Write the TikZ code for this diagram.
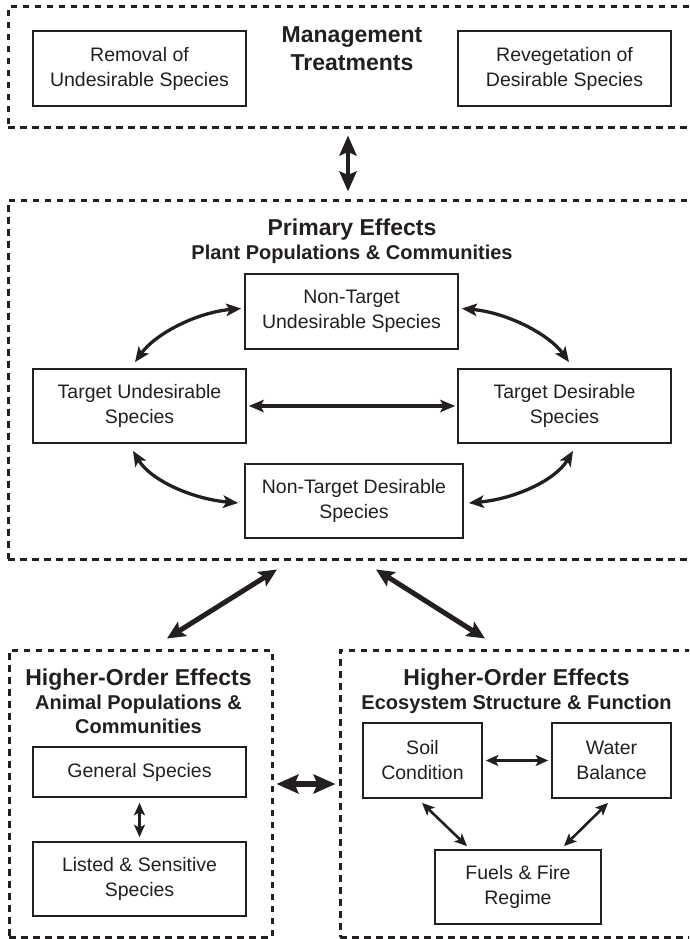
\documentclass[tikz,border=0pt]{standalone}
\usepackage{fontspec}
\setmainfont{Liberation Sans}
\usetikzlibrary{arrows.meta}
\definecolor{ink}{HTML}{231F20}

\tikzset{
  frame/.style={draw=ink, line width=3pt, dash pattern=on 6.5pt off 5.5pt,
    rectangle, inner sep=0pt},
  box/.style={draw=ink, line width=1.7pt, rectangle, inner sep=0pt,
    align=center, text=ink, font=\fontsize{19.5}{25}\selectfont},
  ttl/.style={text=ink, inner sep=0pt, anchor=base,
    font=\fontsize{23}{28}\selectfont\bfseries},
  sub/.style={text=ink, inner sep=0pt, anchor=base,
    font=\fontsize{20}{24}\selectfont\bfseries},
  curvelink/.style={draw=ink, line width=3.3pt,
    {Stealth[length=15pt,width=12.5pt,inset=3.5pt]}-{Stealth[length=15pt,width=12.5pt,inset=3.5pt]}},
  thinlink/.style={draw=ink, line width=2.6pt,
    {Stealth[length=12.5pt,width=11pt,inset=3pt]}-{Stealth[length=12.5pt,width=11pt,inset=3pt]}},
  vlink/.style={draw=ink, line width=4.5pt,
    {Stealth[length=20pt,width=17pt,inset=3.5pt]}-{Stealth[length=20pt,width=17pt,inset=3.5pt]}},
  biglink/.style={draw=ink, line width=5pt,
    {Stealth[length=18pt,width=16.5pt,inset=3.5pt]}-{Stealth[length=18pt,width=16.5pt,inset=3.5pt]}},
  hugelink/.style={draw=ink, line width=5.5pt,
    {Stealth[length=22pt,width=19pt,inset=4pt]}-{Stealth[length=22pt,width=19pt,inset=4pt]}},
}

\begin{document}
\begin{tikzpicture}[x=1pt, y=-1pt]
\path[use as bounding box] (0,0) rectangle (689,939);
\clip (0,0) rectangle (689,939);

% dashed group frames
\node[frame, minimum width=688pt, minimum height=121pt] (topf) at (352,67.5) {};
\node[frame, minimum width=688pt, minimum height=359pt] (prim) at (352,379.5) {};
\node[frame, minimum width=263pt, minimum height=287pt] (leftf) at (140.5,793.5) {};
\node[frame, minimum width=356pt, minimum height=287pt] (rightf) at (518,793.5) {};

% management treatments
\node[ttl] (mgmtA) at (352,43) {Management};
\node[ttl] (mgmtB) at (352,71) {Treatments};
\node[box, minimum width=213pt, minimum height=75pt] (rem) at (139.5,68.5) {Removal of\\Undesirable Species};
\node[box, minimum width=213pt, minimum height=75pt] (rev) at (564.5,68.5) {Revegetation of\\Desirable Species};

% primary effects
\node[ttl] (peA) at (352,235) {Primary Effects};
\node[sub] (peB) at (352,259) {Plant Populations \& Communities};
\node[box, minimum width=213pt, minimum height=75pt] (ntu) at (351.5,311.5) {Non-Target\\Undesirable Species};
\node[box, minimum width=213pt, minimum height=74pt] (tu) at (139.5,406) {Target Undesirable\\Species};
\node[box, minimum width=213pt, minimum height=74pt] (td) at (564.5,406) {Target Desirable\\Species};
\node[box, minimum width=218pt, minimum height=74pt] (ntd) at (354,501) {Non-Target Desirable\\Species};

% higher-order effects: animals
\node[ttl] (laA) at (138.5,685) {Higher-Order Effects};
\node[sub] (laB) at (138.5,709) {Animal Populations \&};
\node[sub] (laC) at (138.5,733) {Communities};
\node[box, minimum width=213pt, minimum height=50pt] (gen) at (139.5,772) {General Species};
\node[box, minimum width=213pt, minimum height=74pt] (lst) at (139.5,879) {Listed \& Sensitive\\Species};

% higher-order effects: ecosystem
\node[ttl] (reA) at (516.5,685) {Higher-Order Effects};
\node[sub] (reB) at (516.5,709) {Ecosystem Structure \& Function};
\node[box, minimum width=119pt, minimum height=75pt] (soil) at (422.5,760.5) {Soil\\Condition};
\node[box, minimum width=119pt, minimum height=75pt] (water) at (611.5,760.5) {Water\\Balance};
\node[box, minimum width=166pt, minimum height=74pt] (fuel) at (518,887) {Fuels \& Fire\\Regime};

% links between groups
\draw[vlink] ([xshift=-4pt,yshift=-6pt]topf.south) -- ([xshift=-4pt,yshift=7pt]prim.north);
\draw[biglink] ([xshift=-75pt,yshift=-9pt]prim.south) -- ([xshift=26.5pt,yshift=10pt]leftf.north);
\draw[biglink] ([xshift=24pt,yshift=-9pt]prim.south) -- ([xshift=-33pt,yshift=10pt]rightf.north);
\draw[hugelink] ([xshift=3pt,yshift=9.5pt]leftf.east) -- ([xshift=-3pt,yshift=9.5pt]rightf.west);

% links among plant groups
\draw[curvelink] ([xshift=2pt]tu.east) -- ([xshift=-2pt]td.west);
\draw[curvelink] ([xshift=-3pt,yshift=3pt]ntu.west) .. controls +(-45,4) and +(20,-28) .. ([xshift=-4.5pt,yshift=6pt]tu.north);
\draw[curvelink] ([xshift=3pt,yshift=3pt]ntu.east) .. controls +(45,4) and +(-20,-28) .. ([xshift=4.5pt,yshift=6pt]td.north);
\draw[curvelink] ([xshift=-6.5pt,yshift=-7pt]tu.south) .. controls +(18,30) and +(-45,-4) .. ([xshift=-6pt,yshift=-2pt]ntd.west);
\draw[curvelink] ([xshift=8.5pt,yshift=-7pt]td.south) .. controls +(-18,30) and +(45,-4) .. ([xshift=5pt,yshift=-2pt]ntd.east);

% links within higher-order groups
\draw[thinlink] ([yshift=-5pt]gen.south) -- ([yshift=4pt]lst.north);
\draw[thinlink] ([xshift=3pt]soil.east) -- ([xshift=-3pt]water.west);
\draw[thinlink] ([xshift=-0.5pt,yshift=-4pt]soil.south) -- ([xshift=-51pt,yshift=3pt]fuel.north);
\draw[thinlink] ([xshift=-3.5pt,yshift=-4pt]water.south) -- ([xshift=46pt,yshift=3pt]fuel.north);
\end{tikzpicture}
\end{document}
